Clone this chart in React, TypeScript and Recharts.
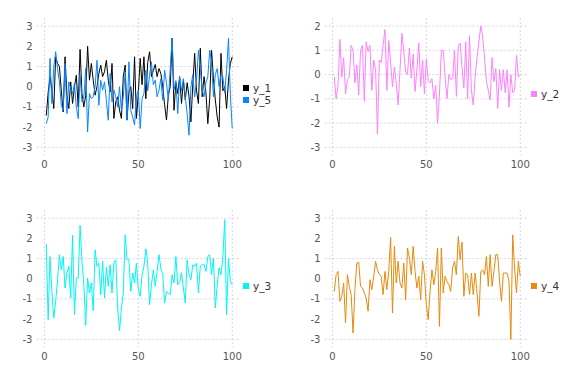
import { LineChart, Line, XAxis, YAxis, CartesianGrid } from 'recharts'

// values, index 1..100
const y_1 = [
  -1.43, -0.3, 0.5, -0.17, -1.08, 1.48, 1.15, 1.0, -0.17, -1.25, 1.48, -0.42, -1.08, 0.24, -0.83, 0.0, 0.57, -1.0, 1.85, -0.34,
  -1.0, -0.42, 2.0, 0.32, 1.15, 0.32, -0.42, 0.0, 0.65, 1.07, 0.5, 0.74, 1.31, 0.32, -0.26, 1.15, -1.57, -0.75, -0.5, -1.17,
  -1.57, 0.5, 1.07, -1.65, -0.26, 0.0, -1.08, 1.48, -1.57, -0.34, 1.4,
  0.1, 1.48, -0.6, 1.2, 1.73, 0.5, 0.8, 1.1, 0.5, 0.9, 0.66, 0.0, -0.9, -1.65, -0.4, 0.0, 2.4, -1.17, 0.2, -0.34,
  0.5, -0.83, 0.3, -0.66, 0.2, -0.5, -1.74, 0.1, 1.65, -0.2, -0.83, 1.9, -0.5, 0.5, -0.3, -1.83, -0.6, 1.8, 0.4, -0.66,
  -1.5, -2.0, 1.65, -0.2, 0.0, -1.08, 0.32, 1.15, 1.48,
]

const y_5 = [
  -1.83, -1.5, 1.4, -0.83, 0.98, 1.73, 0.9, 0.24, -0.92, -1.17, 1.15, -1.33, 0.24, -0.09, -0.34, 0.16, -1.0, -1.58, 0.57, -0.75,
  -0.5, 0.9, -2.24, -0.34, -0.59, -0.5, 0.0, 1.31, -0.92, 0.32, -0.17, 0.24, -0.67, -1.66, 0.65, -0.75, -0.17, -0.5, -1.0, 0.0,
  -1.17, -0.5, 0.74, -1.66, 1.23, -1.17, -1.5, -1.9, -0.5, -0.17, -2.07, -0.59,
  -0.34, 0.82, -0.2, 0.57, 1.23, 0.1, 0.32, -0.5, -0.17, 0.4, -0.67, 0.82, 0.2, -0.67, 0.9, 2.39, -0.17, 0.3, -1.33, 0.49,
  -0.2, 0.4, -0.5, -1.33, -2.4, 0.0, 0.6, -0.5, 0.3, 1.81, 0.9, -0.17, -0.5, 0.2, 0.49, 1.81, 1.2, -0.5, 0.6, 0.9,
  0.0, 0.6, 0.49, -0.3, 0.8, 2.39, -0.4, -2.07,
]

const y_2 = [
  -0.1, -1.0, -0.45, 1.45, -0.1, 0.7, -0.8, -0.2, -0.1, 1.2, 1.0, -0.35, 0.4, -0.85, 1.0, 1.2, -1.1, 1.35, 0.95, 1.2,
  -0.65, 0.6, 0.2, -2.45, 0.6, 0.5, 1.2, 1.85, -0.65, 1.4, 0.5, -0.5, 0.3, -0.35, -1.25, 0.2, 1.7, 0.95, 0.1, 0.0,
  1.1, -0.15, 0.85, -0.7, 0.2, 1.3, -0.5, 0.6, -0.8, 0.65,
  -0.25, -0.35, -0.17, -1.0, -0.45, -2.0, -0.8, 1.0, 1.0, -0.1, -1.0, 0.0, -0.2, -0.17, 1.0, -0.9, 1.15, 1.3, 0.3, -0.55,
  1.35, -1.0, 1.6, -0.65, -1.25, -0.1, 0.7, 1.35, 2.0, 1.55, 0.7, -0.3, -0.65, -1.05, 0.7, -0.3, 0.25, -1.4, 0.2, -0.65,
  0.2, -0.75, 0.2, -1.35, 0.0, -0.75, -0.65, 0.8, -0.1, -0.05,
]

const y_3 = [
  1.71, -2.03, 1.1, -0.63, -1.94, -1.12, -0.05, 1.19, 0.44, 1.1, -0.46, 0.28, 0.61, -0.96, 2.14, -1.78, 0.03, 0.03, 2.64, 0.86,
  -0.3, -2.31, 0.03, -0.71, -0.21, -1.58, 1.43, 0.61, 0.77, -0.79, 0.86, -0.96, 0.56, -0.38, 0.69, -0.71, 0.77, 0.94, -1.45, -2.57,
  -1.45, -0.71, 2.17, 0.94, 0.94, -0.63, 0.28, -0.21, 0.77, -0.54, -0.87, 0.2, 0.61,
  1.48, 0.77, -1.28, -0.3, 0.44, -0.38, 0.36, 1.19, 0.5, 0.2, -1.2, -0.63, -0.71, -0.79, 0.2, -0.21, 1.1, -0.3, -0.21, 0.3,
  -0.46, -1.2, 0.94, 0.2, -0.05, 0.69, 0.61, 0.77, -0.71, 0.61, 0.69, 0.69, 0.36, 1.1, 1.19, 0.2, 1.02, -1.45, -0.3, 0.53,
  0.2, 1.02, 2.92, -1.78, 1.02, -0.13, -0.3,
]

const y_4 = [
  -0.63, 0.2, 0.36, -1.12, -0.87, -0.21, -2.19, 0.2, -0.38, -0.79, -2.69, -0.54, 0.77, 0.82, -0.38, -0.46, -0.71, -0.96, -1.61, -0.05,
  -0.54, 0.12, 0.86, 0.44, 0.2, 0.12, -0.79, 0.36, -0.54, 0.36, 2.04, -1.7, 1.6, -0.21, 0.86, -0.21, -0.46, 0.77, -1.04, 1.52,
  1.02, 0.2, 1.6, 0.36, -0.46, 0.12, -1.04, 0.86, 0.2, -1.28, -2.03, -0.63, 0.44, -0.3,
  0.36, 1.52, -2.36, 1.52, -0.71, 0.12, -0.13, -0.3, -0.63, 0.53, 0.86, 0.2, 2.09, 0.94, 1.81, -0.87, 0.28, 0.2, -0.79, 0.28,
  -0.79, 0.28, -0.71, -1.86, 0.36, 0.44, 0.2, 1.1, -0.38, 1.19, -0.38, 0.36, 1.19, 1.19, -0.13, -1.12, 0.28, 0.28, 0.28, -0.13,
  -3.01, 2.17, 0.53, -0.71, 0.86, 0.12,
]

const xTicks = [0, 50, 100]
const yTicks = [-3, -2, -1, 0, 1, 2, 3]
const yTicks2 = [-3, -2, -1, 0, 1, 2]

const colors: Record<string, string> = {
  y_1: '#000000',
  y_2: '#ff80ff',
  y_3: '#00f5f5',
  y_4: '#e8890c',
  y_5: '#0a84ff',
}

const font = '"DejaVu Sans", sans-serif'
const tickStyle = { fontSize: 10, fill: '#555', fontFamily: font }

function rows(series: Record<string, number[]>) {
  const keys = Object.keys(series)
  return series[keys[0]].map((_, i) => {
    const r: Record<string, number> = { x: i + 1 }
    keys.forEach(k => (r[k] = series[k][i]))
    return r
  })
}

interface PanelProps {
  left: number
  top: number
  series: Record<string, number[]>
  yDomain: [number, number]
  ticks: number[]
}

function Panel({ left, top, series, yDomain, ticks }: PanelProps) {
  const keys = Object.keys(series)
  const data = rows(series)
  return (
    <div style={{ position: 'absolute', left, top, width: 288, height: 192 }}>
      <LineChart width={288} height={192} data={data} margin={{ top: 18, right: 49, left: 0, bottom: 0 }}>
        <CartesianGrid stroke="#d4d4e4" strokeDasharray="2 2" horizontalValues={ticks} verticalValues={xTicks} />
        <XAxis
          dataKey="x"
          type="number"
          domain={[-4.2, 103.6]}
          ticks={xTicks}
          height={36.6}
          axisLine={false}
          tickLine={false}
          tickSize={0}
          tickMargin={5}
          tick={tickStyle}
          allowDataOverflow
        />
        <YAxis
          type="number"
          domain={yDomain}
          ticks={ticks}
          width={36.5}
          axisLine={false}
          tickLine={false}
          tickSize={0}
          tickMargin={4}
          tick={tickStyle}
          allowDataOverflow
        />
        {keys.map(k => (
          <Line key={k} dataKey={k} stroke={colors[k]} strokeWidth={1} dot={false} isAnimationActive={false} />
        ))}
      </LineChart>
      <div style={{ position: 'absolute', left: 243, top: 93.6 - keys.length * 6, fontFamily: font, fontSize: 10.5, color: '#333' }}>
        {keys.map(k => (
          <div key={k} style={{ height: 12, display: 'flex', alignItems: 'center' }}>
            <span style={{ width: 6, height: 6, background: colors[k], display: 'inline-block', marginRight: 4 }} />
            <span>{k}</span>
          </div>
        ))}
      </div>
    </div>
  )
}

export default function App() {
  return (
    <div style={{ position: 'absolute', left: 0, top: 0, width: 576, height: 384, background: '#fff' }}>
      <Panel left={0} top={0} series={{ y_1, y_5 }} yDomain={[-3.4, 3.4]} ticks={yTicks} />
      <Panel left={288} top={0} series={{ y_2 }} yDomain={[-3.33, 2.33]} ticks={yTicks2} />
      <Panel left={0} top={192} series={{ y_3 }} yDomain={[-3.4, 3.4]} ticks={yTicks} />
      <Panel left={288} top={192} series={{ y_4 }} yDomain={[-3.4, 3.4]} ticks={yTicks} />
    </div>
  )
}
